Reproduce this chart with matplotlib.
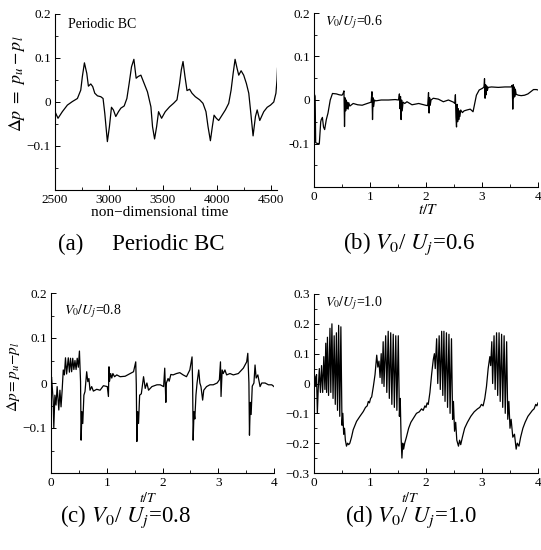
import numpy as np
import matplotlib
matplotlib.use("Agg")
import matplotlib.pyplot as plt
from matplotlib.ticker import MultipleLocator

plt.rcParams['font.family'] = ['Liberation Serif', 'DejaVu Serif']
plt.rcParams['mathtext.fontset'] = 'stix'

# (a) periodic BC, pressure difference vs non-dimensional time
pts_a = [(2500, -0.022), (2528, -0.037), (2568, -0.022), (2615, -0.007), (2661, 0.001),
         (2708, 0.008), (2739, 0.027), (2754, 0.058), (2773, 0.089), (2795, 0.065),
         (2810, 0.036), (2832, 0.041), (2850, 0.035), (2869, 0.020), (2894, 0.014),
         (2925, 0.012), (2946, 0.008), (2962, -0.026), (2986, -0.090), (3005, -0.056),
         (3024, -0.012), (3042, -0.018), (3064, -0.033), (3089, -0.022), (3111, -0.014),
         (3142, -0.009), (3167, 0.008), (3188, 0.042), (3210, 0.080), (3232, 0.097),
         (3253, 0.054), (3272, 0.058), (3297, 0.061), (3321, 0.046), (3358, 0.023),
         (3390, -0.011), (3405, -0.056), (3424, -0.084), (3443, -0.056), (3461, -0.022),
         (3489, -0.037), (3523, -0.022), (3563, -0.011), (3600, -0.003), (3632, 0.005),
         (3656, 0.042), (3672, 0.073), (3688, 0.092), (3706, 0.058), (3725, 0.026),
         (3749, 0.029), (3771, 0.020), (3802, 0.012), (3842, 0.005), (3873, -0.003),
         (3901, -0.022), (3920, -0.056), (3942, -0.088), (3960, -0.056), (3976, -0.030),
         (3997, -0.037), (4019, -0.042), (4050, -0.030), (4081, -0.018), (4112, -0.003),
         (4134, 0.027), (4153, 0.065), (4171, 0.097), (4190, 0.076), (4205, 0.061),
         (4227, 0.071), (4251, 0.061), (4276, 0.042), (4298, 0.020), (4314, -0.018),
         (4338, -0.077), (4360, -0.033), (4376, -0.018), (4400, -0.042), (4437, -0.022),
         (4469, -0.012), (4500, -0.007), (4530, 0.000), (4550, 0.020), (4560, 0.050),
         (4565, 0.077)]

# (b) V0/Uj = 0.6
pts_b = [(0.00, 0.005), (0.01, 0.012), (0.02, 0.008), (0.03, -0.098), (0.06, -0.100),
         (0.095, -0.100), (0.12, -0.050), (0.13, -0.045), (0.15, -0.040), (0.17, -0.062),
         (0.19, -0.068), (0.22, -0.045), (0.25, -0.030), (0.29, 0.000), (0.33, 0.015),
         (0.40, 0.014), (0.45, 0.012), (0.50, 0.011), (0.52, 0.015), (0.535, 0.021),
         (0.545, -0.061), (0.555, 0.005), (0.565, -0.025), (0.575, 0.000), (0.585, -0.020),
         (0.595, -0.005), (0.61, -0.021), (0.62, -0.006), (0.64, -0.014), (0.70, -0.008),
         (0.78, -0.011), (0.86, -0.012), (0.95, -0.008), (1.02, -0.005), (1.035, 0.019),
         (1.045, -0.045), (1.055, 0.005), (1.065, -0.015), (1.08, 0.000), (1.10, -0.002),
         (1.20, 0.000), (1.33, 0.000), (1.45, 0.001), (1.51, 0.000), (1.525, 0.014),
         (1.535, -0.020), (1.545, 0.008), (1.555, -0.045), (1.565, 0.000), (1.575, -0.025),
         (1.59, -0.005), (1.62, -0.008), (1.66, -0.004), (1.75, -0.011), (1.87, -0.008),
         (1.99, -0.012), (2.03, -0.013), (2.045, 0.017), (2.055, -0.030), (2.065, 0.005),
         (2.075, -0.012), (2.09, 0.000), (2.13, 0.004), (2.22, 0.002), (2.31, -0.004),
         (2.40, 0.000), (2.49, -0.005), (2.515, -0.008), (2.525, 0.012), (2.535, -0.040),
         (2.545, -0.062), (2.555, -0.010), (2.565, -0.050), (2.575, -0.020), (2.585, -0.045),
         (2.595, -0.025), (2.605, -0.038), (2.62, -0.023), (2.65, -0.029), (2.68, -0.025),
         (2.73, -0.023), (2.79, -0.021), (2.84, -0.027), (2.87, -0.008), (2.90, 0.011),
         (2.95, 0.023), (3.01, 0.027), (3.035, 0.030), (3.045, 0.049), (3.055, 0.004),
         (3.065, 0.035), (3.075, 0.012), (3.085, 0.032), (3.095, 0.022), (3.11, 0.029),
         (3.17, 0.030), (3.29, 0.029), (3.41, 0.030), (3.52, 0.030), (3.54, 0.034),
         (3.55, -0.021), (3.56, 0.035), (3.565, 0.005), (3.575, 0.030), (3.585, 0.008),
         (3.595, 0.025), (3.61, 0.013), (3.65, 0.011), (3.70, 0.010), (3.76, 0.011),
         (3.82, 0.014), (3.87, 0.019), (3.92, 0.024), (3.97, 0.024), (4.00, 0.023)]

# (c) V0/Uj = 0.8
pts_c = [(0.00, 0.007), (0.01, 0.013), (0.04, -0.041), (0.05, -0.100), (0.07, -0.027),
         (0.09, -0.049), (0.11, -0.008), (0.14, -0.060), (0.16, -0.016), (0.18, -0.053),
         (0.20, -0.016), (0.22, 0.029), (0.24, 0.018), (0.26, 0.056), (0.28, 0.020),
         (0.31, 0.056), (0.33, 0.024), (0.35, 0.055), (0.37, 0.025), (0.39, 0.055),
         (0.41, 0.030), (0.43, 0.050), (0.45, 0.030), (0.47, 0.055), (0.49, 0.035),
         (0.51, 0.071), (0.53, 0.003), (0.54, -0.127), (0.555, -0.064), (0.57, -0.090),
         (0.59, -0.027), (0.61, -0.019), (0.64, 0.025), (0.66, 0.003), (0.68, 0.010),
         (0.70, -0.016), (0.73, -0.008), (0.76, -0.018), (0.82, -0.014), (0.88, -0.016),
         (0.94, -0.006), (1.01, -0.008), (1.03, -0.030), (1.04, 0.036), (1.05, 0.004),
         (1.07, 0.021), (1.09, 0.011), (1.11, 0.021), (1.14, 0.014), (1.18, 0.018),
         (1.24, 0.014), (1.33, 0.015), (1.42, 0.021), (1.48, 0.025), (1.52, 0.047),
         (1.53, -0.004), (1.54, -0.130), (1.555, -0.064), (1.57, -0.090), (1.59, -0.027),
         (1.62, -0.024), (1.66, 0.014), (1.69, -0.012), (1.72, 0.000), (1.75, -0.016),
         (1.81, -0.008), (1.90, -0.004), (1.96, -0.004), (2.02, -0.008), (2.04, 0.033),
         (2.06, -0.043), (2.07, 0.000), (2.10, 0.010), (2.12, 0.004), (2.15, 0.019),
         (2.19, 0.018), (2.25, 0.021), (2.31, 0.023), (2.37, 0.018), (2.43, 0.014),
         (2.49, 0.029), (2.53, 0.058), (2.54, 0.000), (2.55, -0.127), (2.565, -0.064),
         (2.58, -0.080), (2.60, -0.027), (2.62, 0.000), (2.65, 0.029), (2.67, 0.000),
         (2.69, -0.008), (2.72, -0.038), (2.74, -0.016), (2.79, -0.008), (2.85, -0.004),
         (2.91, -0.004), (2.98, 0.000), (3.02, 0.007), (3.04, 0.047), (3.05, -0.030),
         (3.07, 0.029), (3.09, 0.021), (3.12, 0.029), (3.15, 0.018), (3.21, 0.021),
         (3.27, 0.018), (3.36, 0.021), (3.45, 0.033), (3.51, 0.047), (3.53, 0.066),
         (3.55, 0.000), (3.56, -0.116), (3.575, -0.043), (3.59, -0.070), (3.61, -0.007),
         (3.64, 0.000), (3.66, 0.040), (3.68, 0.011), (3.71, 0.018), (3.75, -0.008),
         (3.78, 0.000), (3.84, 0.000), (3.90, -0.004), (3.96, -0.004), (4.00, -0.008)]

# (d) V0/Uj = 1.0
pts_d = [(0.00, 0.005), (0.015, 0.025), (0.03, -0.010), (0.045, 0.030), (0.06, -0.100),
         (0.075, -0.020), (0.095, 0.050), (0.115, -0.030), (0.135, 0.060), (0.155, -0.030),
         (0.175, 0.090), (0.195, -0.020), (0.21, 0.135), (0.225, -0.030), (0.24, 0.155),
         (0.26, -0.040), (0.285, 0.185), (0.30, -0.030), (0.32, 0.200), (0.34, -0.050),
         (0.36, 0.160), (0.38, -0.070), (0.40, 0.170), (0.42, -0.090), (0.44, 0.195),
         (0.46, -0.110), (0.48, 0.190), (0.50, -0.140), (0.515, -0.100), (0.53, -0.170),
         (0.545, -0.150), (0.56, -0.190), (0.58, -0.210), (0.60, -0.200), (0.62, -0.205),
         (0.64, -0.200), (0.67, -0.180), (0.70, -0.155), (0.76, -0.127), (0.82, -0.110),
         (0.88, -0.094), (0.92, -0.080), (0.95, -0.075), (0.97, -0.060), (0.99, -0.065),
         (1.01, -0.050), (1.03, -0.045), (1.06, -0.010), (1.09, 0.030), (1.12, 0.095),
         (1.14, 0.055), (1.16, 0.075), (1.18, 0.020), (1.20, 0.100), (1.215, 0.000),
         (1.235, 0.140), (1.25, -0.010), (1.28, 0.160), (1.30, -0.030), (1.325, 0.175),
         (1.345, -0.050), (1.37, 0.170), (1.39, -0.070), (1.415, 0.165), (1.435, -0.080),
         (1.46, 0.160), (1.48, -0.090), (1.505, 0.160), (1.525, -0.110), (1.54, -0.050),
         (1.555, -0.180), (1.57, -0.250), (1.585, -0.200), (1.60, -0.220), (1.62, -0.200),
         (1.65, -0.180), (1.69, -0.150), (1.73, -0.130), (1.78, -0.115), (1.83, -0.100),
         (1.88, -0.095), (1.92, -0.085), (1.95, -0.090), (1.98, -0.075), (2.00, -0.080),
         (2.02, -0.065), (2.04, -0.070), (2.07, -0.030), (2.10, 0.030), (2.13, 0.080),
         (2.15, 0.100), (2.165, 0.050), (2.19, 0.150), (2.21, 0.000), (2.235, 0.160),
         (2.255, -0.020), (2.28, 0.175), (2.30, -0.040), (2.32, 0.175), (2.34, -0.060),
         (2.365, 0.170), (2.385, -0.080), (2.41, 0.165), (2.43, -0.100), (2.455, 0.150),
         (2.475, -0.120), (2.49, -0.060), (2.51, -0.160), (2.53, -0.130), (2.55, -0.190),
         (2.58, -0.210), (2.60, -0.190), (2.62, -0.205), (2.65, -0.180), (2.69, -0.150),
         (2.74, -0.130), (2.80, -0.110), (2.86, -0.095), (2.92, -0.085), (2.96, -0.080),
         (2.99, -0.070), (3.02, -0.075), (3.05, -0.050), (3.08, -0.010), (3.11, 0.050),
         (3.14, 0.090), (3.155, 0.060), (3.175, 0.140), (3.19, 0.000), (3.215, 0.160),
         (3.235, -0.020), (3.26, 0.170), (3.28, -0.040), (3.305, 0.170), (3.325, -0.060),
         (3.35, 0.165), (3.37, -0.080), (3.395, 0.160), (3.415, -0.100), (3.44, 0.140),
         (3.46, -0.120), (3.48, -0.060), (3.50, -0.150), (3.52, -0.120), (3.55, -0.180),
         (3.58, -0.170), (3.61, -0.220), (3.63, -0.200), (3.66, -0.210), (3.69, -0.180),
         (3.73, -0.150), (3.77, -0.130), (3.82, -0.110), (3.86, -0.100), (3.90, -0.090),
         (3.93, -0.085), (3.96, -0.070), (3.98, -0.075), (4.00, -0.065)]

yt_abc = [-0.1, 0, 0.1, 0.2]
ytl_ac = ['\u22120.1', '0', '0.1', '0.2']
ytl_b = ['-0.1', '0', '0.1', '0.2']
yt_d = [-0.3, -0.2, -0.1, 0, 0.1, 0.2, 0.3]
ytl_d = ['\u22120.3', '\u22120.2', '\u22120.1', '0', '0.1', '0.2', '0.3']
xt_a = [2500, 3000, 3500, 4000, 4500]
xt_t = [0, 1, 2, 3, 4]

W, H = 541, 550
fig = plt.figure(figsize=(W / 100, H / 100), dpi=100)


def box(l, r, t, b):
    return [l / W, 1 - b / H, (r - l) / W, (b - t) / H]


def style(ax):
    for s in ['top', 'right']:
        ax.spines[s].set_visible(False)
    for s in ['left', 'bottom']:
        ax.spines[s].set_linewidth(0.8)
    ax.tick_params(which='both', direction='in', labelsize=9.5, pad=3)
    ax.tick_params(which='major', length=3.5, width=0.7)
    ax.tick_params(which='minor', length=2, width=0.6)


ax_a = fig.add_axes(box(55, 277, 14, 190))
ax_b = fig.add_axes(box(314, 538, 13, 187))
ax_c = fig.add_axes(box(51, 274, 293, 473))
ax_d = fig.add_axes(box(314, 538, 294, 473))

for ax, pts in [(ax_a, pts_a), (ax_b, pts_b), (ax_c, pts_c), (ax_d, pts_d)]:
    x, y = np.array(pts).T
    ax.plot(x, y, color='black', lw=0.9)
    style(ax)

ax_a.set_xlim(2500, 4560)
ax_a.set_ylim(-0.2, 0.2)
ax_a.set_xticks(xt_a)
ax_a.xaxis.set_minor_locator(MultipleLocator(250))
ax_a.set_yticks(yt_abc)
ax_a.set_yticklabels(ytl_ac)
ax_a.yaxis.set_minor_locator(MultipleLocator(0.05))
ax_a.text(0.06, 0.94, 'Periodic BC', transform=ax_a.transAxes, fontsize=10, va='center')

for ax in [ax_b, ax_c, ax_d]:
    ax.set_xlim(0, 4)
    ax.set_xticks(xt_t)
    ax.xaxis.set_minor_locator(MultipleLocator(0.5))
    ax.yaxis.set_minor_locator(MultipleLocator(0.05))

ax_b.set_ylim(-0.2, 0.2)
ax_b.set_yticks(yt_abc)
ax_b.set_yticklabels(ytl_b)
ax_c.set_ylim(-0.2, 0.2)
ax_c.set_yticks(yt_abc)
ax_c.set_yticklabels(ytl_ac)
ax_d.set_ylim(-0.3, 0.3)
ax_d.set_yticks(yt_d)
ax_d.set_yticklabels(ytl_d)

ax_b.text(0.05, 0.95, r'$V_0/U_j$=0.6', transform=ax_b.transAxes, fontsize=10, va='center')
ax_c.text(0.06, 0.9, r'$V_0/U_j$=0.8', transform=ax_c.transAxes, fontsize=10, va='center')
ax_d.text(0.05, 0.95, r'$V_0/U_j$=1.0', transform=ax_d.transAxes, fontsize=10, va='center')

# axis labels
fig.text(160 / W, 1 - 213 / H, 'non\u2212dimensional time', fontsize=11, ha='center', va='center')
fig.text(428 / W, 1 - 210 / H, r'$t/T$', fontsize=11, ha='center', va='center')
fig.text(148 / W, 1 - 498 / H, r'$t/T$', fontsize=10, ha='center', va='center')
fig.text(410 / W, 1 - 498 / H, r'$t/T$', fontsize=10, ha='center', va='center')
fig.text(17 / W, 1 - 84 / H, r'$\mathit{\Delta p}\ =\ p_u - p_l$', fontsize=13,
         rotation=90, ha='center', va='center')
fig.text(13 / W, 1 - 377 / H, r'$\mathit{\Delta p}{=}p_u{-}p_l$', fontsize=11,
         rotation=90, ha='center', va='center')

# captions
fig.text(58 / W, 1 - 244 / H, '(a)     Periodic BC', fontsize=16.5, va='center')
fig.text(343 / W, 1 - 244 / H, r'(b) $V_{\rm 0}$/ $U_j$=0.6', fontsize=16.5, va='center')
fig.text(60 / W, 1 - 517 / H, r'(c) $V_{\rm 0}$/ $U_j$=0.8', fontsize=16.5, va='center')
fig.text(345 / W, 1 - 517 / H, r'(d) $V_{\rm 0}$/ $U_j$=1.0', fontsize=16.5, va='center')

fig.savefig('out.png', dpi=100)
